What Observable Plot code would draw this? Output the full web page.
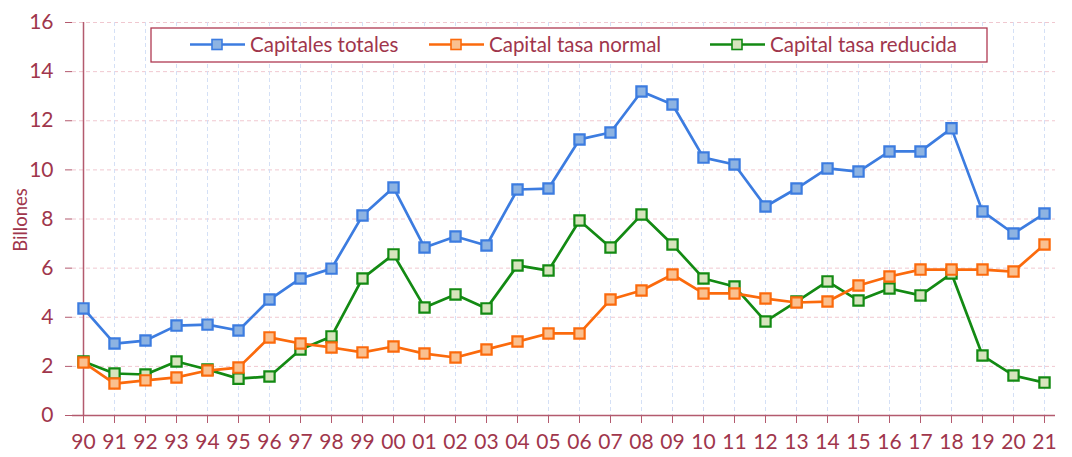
<!DOCTYPE html>
<html><head><meta charset="utf-8">
<script src="https://cdn.jsdelivr.net/npm/d3@7"></script>
<script src="https://cdn.jsdelivr.net/npm/@observablehq/plot@0.6"></script>
<style>body{margin:0;background:#fff}</style>
</head><body><div id="chart"></div>
<script>
const years = ["90","91","92","93","94","95","96","97","98","99","00","01","02","03","04","05","06","07","08","09","10","11","12","13","14","15","16","17","18","19","20","21"];
const totales = [4.36,2.93,3.05,3.66,3.70,3.46,4.72,5.58,5.98,8.14,9.28,6.84,7.29,6.92,9.20,9.24,11.24,11.52,13.19,12.66,10.50,10.22,8.51,9.24,10.06,9.93,10.75,10.75,11.69,8.31,7.41,8.22];
const normal = [2.16,1.30,1.43,1.55,1.83,1.95,3.18,2.93,2.77,2.57,2.81,2.52,2.36,2.69,3.01,3.34,3.34,4.72,5.09,5.74,4.97,4.97,4.76,4.60,4.64,5.29,5.66,5.94,5.94,5.94,5.86,6.96];
const reducida = [2.20,1.71,1.67,2.20,1.87,1.50,1.59,2.69,3.22,5.58,6.56,4.40,4.93,4.36,6.11,5.90,7.94,6.84,8.18,6.96,5.58,5.25,3.83,4.64,5.46,4.68,5.17,4.89,5.78,2.44,1.63,1.34];
const seriesNames = ["Capitales totales","Capital tasa normal","Capital tasa reducida"];
const yTicks = [0,2,4,6,8,10,12,14,16];

const strokes = ["#3c7ce0","#fb6a0c","#138a13"];
const fills = ["#8db3e2","#fac08f","#d7e4bd"];
const textColor = "#a0364c";
const axisColor = "#b35a6e";
const font = "Lato, 'Open Sans', sans-serif";

const seriesVals = [totales, normal, reducida];
const rows = [];
seriesVals.forEach((vals, s) => vals.forEach((v, i) => rows.push({year: years[i], value: v, series: seriesNames[s]})));

const marks = [
  Plot.ruleY(yTicks.filter(d => d > 0), {stroke: "#f0c8d0", strokeDasharray: "4,3", strokeWidth: 1}),
  Plot.ruleX(years.slice(1), {stroke: "#d4e0f6", strokeDasharray: "4,3", strokeWidth: 1}),
  Plot.axisY({ticks: yTicks, tickSize: 7, tickPadding: 12, fontSize: 21, color: textColor, stroke: axisColor, label: null}),
  Plot.axisX({tickSize: 8, tickPadding: 11, fontSize: 21, color: textColor, stroke: axisColor, label: null}),
  Plot.ruleY([0], {stroke: axisColor, strokeWidth: 1.5}),
  Plot.ruleX([years[0]], {stroke: axisColor, strokeWidth: 1.5}),
];
seriesNames.slice().reverse().forEach((name) => {
  const s = seriesNames.indexOf(name);
  const data = rows.filter(r => r.series === name);
  marks.push(Plot.line(data, {x: "year", y: "value", stroke: strokes[s], strokeWidth: 2.7}));
  marks.push(Plot.dot(data, {x: "year", y: "value", symbol: "square", r: 5.8, stroke: strokes[s], fill: fills[s], strokeWidth: 2.2}));
});

const chart = Plot.plot({
  width: 1072, height: 457,
  marginLeft: 72, marginRight: 17, marginTop: 22, marginBottom: 42,
  style: {fontFamily: font, background: "#fff", color: textColor},
  x: {type: "point", domain: years, padding: 0},
  y: {domain: [0, 16]},
  marks
});

const svg = d3.select(chart);
svg.append("text")
  .attr("transform", "translate(27,220) rotate(-90)")
  .attr("text-anchor", "middle")
  .attr("fill", textColor)
  .style("font-family", font)
  .style("font-size", "18.5px")
  .text("Billones");

const lg = svg.append("g");
lg.append("rect").attr("x", 151).attr("y", 28).attr("width", 836).attr("height", 34)
  .attr("fill", "#fff").attr("stroke", "#b03a52").attr("stroke-width", 1.3);
const itemX = [190, 429, 710];
seriesNames.forEach((name, s) => {
  const x0 = itemX[s];
  lg.append("line").attr("x1", x0).attr("x2", x0 + 55).attr("y1", 44.5).attr("y2", 44.5)
    .attr("stroke", strokes[s]).attr("stroke-width", 2.6);
  lg.append("rect").attr("x", x0 + 22).attr("y", 39.5).attr("width", 10).attr("height", 10)
    .attr("fill", fills[s]).attr("stroke", strokes[s]).attr("stroke-width", 1.6);
  lg.append("text").attr("x", x0 + 60).attr("y", 51.5).attr("fill", textColor)
    .attr("text-anchor", "start")
    .style("font-family", font).style("font-size", "20.5px").text(name);
});

document.getElementById("chart").appendChild(chart);
</script>
</body></html>
